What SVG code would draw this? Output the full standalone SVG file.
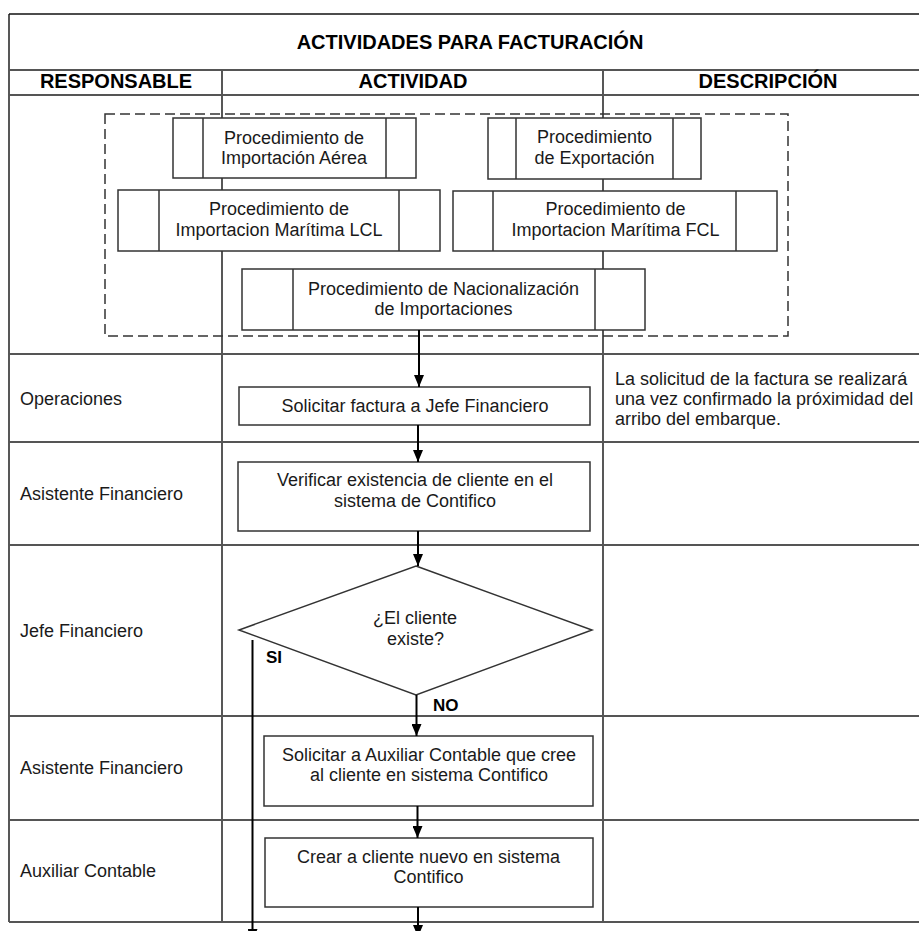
<svg xmlns="http://www.w3.org/2000/svg" width="919" height="931" viewBox="0 0 919 931">
  <style>
    text { font-family: "Liberation Sans", Arial, sans-serif; fill: #1a1a1a; }
    .title { font-size: 20px; font-weight: bold; text-anchor: middle; fill: #000; }
    .lbl { font-size: 18px; }
    .c { font-size: 18px; text-anchor: middle; }
    .yn { font-size: 17px; font-weight: bold; fill: #000; }
    .col { stroke: #111; stroke-width: 1.4; fill: none; }
    .row { stroke: #555; stroke-width: 2; fill: none; }
    .box { fill: #fff; stroke: #333; stroke-width: 1.5; }
    .bar { stroke: #333; stroke-width: 1.5; fill: none; }
    .group { fill: none; stroke: #333; stroke-width: 1.5; stroke-dasharray: 10 5; }
    .flow { stroke: #000; stroke-width: 2; fill: none; }
  </style>
  <defs>
    <marker id="arrow" viewBox="0 0 12 10" refX="12" refY="5" markerWidth="12" markerHeight="10" markerUnits="userSpaceOnUse" orient="auto">
      <path d="M0,0 L12,5 L0,10 z" fill="#000"/>
    </marker>
  </defs>

  <rect width="919" height="931" fill="#fff"/>

  <!-- table grid -->
  <g id="table">
    <line class="col" x1="9" y1="14" x2="919" y2="14"/>
    <line class="col" x1="9" y1="14" x2="9" y2="922"/>
    <line class="col" x1="222" y1="70" x2="222" y2="922"/>
    <line class="col" x1="603" y1="70" x2="603" y2="922"/>
    <line class="row" x1="9" y1="70" x2="919" y2="70"/>
    <line class="row" x1="9" y1="95" x2="919" y2="95"/>
    <line class="row" x1="9" y1="354" x2="919" y2="354"/>
    <line class="row" x1="9" y1="442" x2="919" y2="442"/>
    <line class="row" x1="9" y1="545" x2="919" y2="545"/>
    <line class="row" x1="9" y1="716" x2="919" y2="716"/>
    <line class="row" x1="9" y1="820" x2="919" y2="820"/>
    <line class="row" x1="9" y1="922" x2="919" y2="922"/>
    <text class="title" x="470" y="49">ACTIVIDADES PARA FACTURACIÓN</text>
    <text class="title" x="116" y="88">RESPONSABLE</text>
    <text class="title" x="413" y="88">ACTIVIDAD</text>
    <text class="title" x="768" y="88">DESCRIPCIÓN</text>
    <text class="lbl" x="20" y="405">Operaciones</text>
    <text class="lbl" x="20" y="500">Asistente Financiero</text>
    <text class="lbl" x="20" y="637">Jefe Financiero</text>
    <text class="lbl" x="20" y="774">Asistente Financiero</text>
    <text class="lbl" x="20" y="877">Auxiliar Contable</text>
    <text class="lbl" x="615" y="385">La solicitud de la factura se realizará</text>
    <text class="lbl" x="615" y="405">una vez confirmado la próximidad del</text>
    <text class="lbl" x="615" y="425">arribo del embarque.</text>
  </g>

  <!-- dashed grouping of source procedures -->
  <rect id="procedures" class="group" x="105" y="114" width="683" height="222"/>

  <g id="proc-aerea">
    <rect class="box" x="173" y="118" width="243" height="60"/>
    <path class="bar" d="M203,118 V178 M386,118 V178"/>
    <text class="c" x="294" y="144">Procedimiento de</text>
    <text class="c" x="294" y="164">Importación Aérea</text>
  </g>
  <g id="proc-exportacion">
    <rect class="box" x="488" y="118" width="213" height="61"/>
    <path class="bar" d="M516,118 V179 M673,118 V179"/>
    <text class="c" x="594.5" y="143">Procedimiento</text>
    <text class="c" x="594.5" y="164">de Exportación</text>
  </g>
  <g id="proc-lcl">
    <rect class="box" x="118" y="190" width="322" height="61"/>
    <path class="bar" d="M159,190 V251 M399,190 V251"/>
    <text class="c" x="279" y="215">Procedimiento de</text>
    <text class="c" x="279" y="236">Importacion Marítima LCL</text>
  </g>
  <g id="proc-fcl">
    <rect class="box" x="453" y="191" width="324" height="60"/>
    <path class="bar" d="M493,191 V251 M736,191 V251"/>
    <text class="c" x="615.5" y="215">Procedimiento de</text>
    <text class="c" x="615.5" y="236">Importacion Marítima FCL</text>
  </g>
  <g id="proc-nacionalizacion">
    <rect class="box" x="242" y="269" width="403" height="61"/>
    <path class="bar" d="M293,269 V330 M595,269 V330"/>
    <text class="c" x="443.5" y="295">Procedimiento de Nacionalización</text>
    <text class="c" x="443.5" y="315">de Importaciones</text>
  </g>

  <g id="solicitar-factura">
    <rect class="box" x="239" y="387" width="351" height="38"/>
    <text class="c" x="415" y="412">Solicitar factura a Jefe Financiero</text>
  </g>
  <g id="verificar-cliente">
    <rect class="box" x="238" y="462" width="352" height="69"/>
    <text class="c" x="415" y="486">Verificar existencia de cliente en el</text>
    <text class="c" x="415" y="507">sistema de Contifico</text>
  </g>
  <g id="cliente-existe">
    <polygon class="box" points="416,566 592,630 416,695 239,630"/>
    <text class="c" x="415" y="624">¿El cliente</text>
    <text class="c" x="415.5" y="645">existe?</text>
  </g>
  <g id="solicitar-auxiliar">
    <rect class="box" x="264" y="736" width="329" height="70"/>
    <text class="c" x="429" y="761">Solicitar a Auxiliar Contable que cree</text>
    <text class="c" x="429" y="781">al cliente en sistema Contifico</text>
  </g>
  <g id="crear-cliente">
    <rect class="box" x="265" y="838" width="328" height="69"/>
    <text class="c" x="428.5" y="863">Crear a cliente nuevo en sistema</text>
    <text class="c" x="428.5" y="883">Contifico</text>
  </g>

  <!-- connectors -->
  <g id="connectors">
    <line class="flow" x1="419" y1="330" x2="419" y2="387" marker-end="url(#arrow)"/>
    <line class="flow" x1="418" y1="425" x2="418" y2="462" marker-end="url(#arrow)"/>
    <line class="flow" x1="418" y1="531" x2="418" y2="566" marker-end="url(#arrow)"/>
    <line class="flow" x1="416.5" y1="695" x2="416.5" y2="736" marker-end="url(#arrow)"/>
    <line class="flow" x1="417.5" y1="806" x2="417.5" y2="838" marker-end="url(#arrow)"/>
    <line class="flow" x1="418" y1="907" x2="418" y2="937" marker-end="url(#arrow)"/>
    <line class="flow" x1="252.5" y1="640" x2="252.5" y2="941" marker-end="url(#arrow)"/>
    <text class="yn" x="266" y="663">SI</text>
    <text class="yn" x="433" y="711">NO</text>
  </g>
</svg>
